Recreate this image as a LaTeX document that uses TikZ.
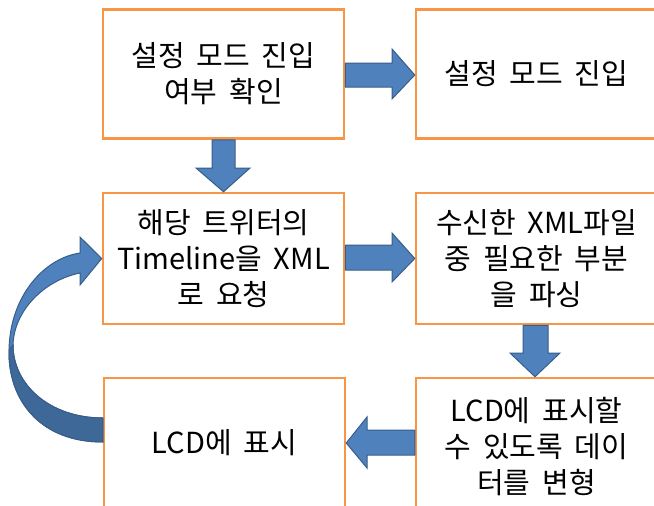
\documentclass[tikz,border=0pt]{standalone}
\usepackage{fontspec}
\setmainfont[WordSpace=1.8]{Noto Sans CJK KR}
\usetikzlibrary{calc}
\definecolor{boxorange}{HTML}{F79646}
\definecolor{arrowblue}{HTML}{4F81BD}
\definecolor{arrowedge}{HTML}{385D8A}
\definecolor{arrowdark}{HTML}{3E6898}
\tikzset{
  flowbox/.style={draw=boxorange, line width=2.5pt, fill=white, minimum width=241pt, minimum height=129pt, align=center, inner sep=0pt, font=\fontsize{29}{36}\selectfont},
  blockarrow/.style={fill=arrowblue, draw=arrowedge, line width=1pt, line join=miter},
  darkpart/.style={fill=arrowdark, draw=arrowedge, line width=1pt}
}
\begin{document}
\begin{tikzpicture}[x=1pt,y=-1pt]
\useasboundingbox (0,0) rectangle (654,506);
\clip (0,0) rectangle (654,506);
% boxes
\node[flowbox] (A) at (223.5,74) {설정 모드 진입\\여부 확인};
\node[flowbox] (B) at (536.5,74) {설정 모드 진입};
\node[flowbox, minimum height=131pt] (C) at (223.5,258.5) {해당 트위터의\\Timeline을 XML\\로 요청};
\node[flowbox, minimum height=131pt] (D) at (536.5,258.5) {수신한 XML파일\\중 필요한 부분\\을 파싱};
\node[flowbox, minimum height=138pt] (E) at (536.5,447) {LCD에 표시할\\수 있도록 데이\\터를 변형};
\node[flowbox, minimum height=130pt] (F) at (224.5,443) {LCD에 표시};
% A -> B
\draw[blockarrow] (A.east |- 0,63) -- (392,63) -- (392,49) -- (B.west |- 0,75) -- (392,99) -- (392,87) -- (A.east |- 0,87) -- cycle;
% A -> C
\draw[blockarrow] (212,0 |- A.south) -- (212,168) -- (196,168) -- (C.north) -- (250,168) -- (235,168) -- (235,0 |- A.south) -- cycle;
% C -> D
\draw[blockarrow] (C.east |- 0,245) -- (392,245) -- (392,233) -- (D.west) -- (392,282) -- (392,270) -- (C.east |- 0,270) -- cycle;
% D -> E
\draw[blockarrow] (523,0 |- D.south) -- (523,353) -- (510,353) -- (535,0 |- E.north) -- (560,353) -- (548,353) -- (548,0 |- D.south) -- cycle;
% E -> F
\draw[blockarrow] (E.west |- 0,430) -- (367,430) -- (367,417) -- (F.east |- 0,443) -- (367,468) -- (367,455) -- (E.west |- 0,455) -- cycle;
% curved arrow F -> C
\draw[blockarrow] (F.west |- 0,442) .. controls (40,442) and (8,400) .. (9,350)
  .. controls (10,295) and (45,258) .. (80,253) -- (80,237) -- (C.west) -- (80,285) -- (80,273)
  .. controls (45,280) and (14,310) .. (13,345)
  .. controls (13,385) and (50,418) .. (F.west |- 0,418) -- cycle;
\draw[darkpart] (F.west |- 0,442) .. controls (40,442) and (8,400) .. (9,350)
  -- (13,345) .. controls (13,385) and (50,418) .. (F.west |- 0,418) -- cycle;
\end{tikzpicture}
\end{document}
